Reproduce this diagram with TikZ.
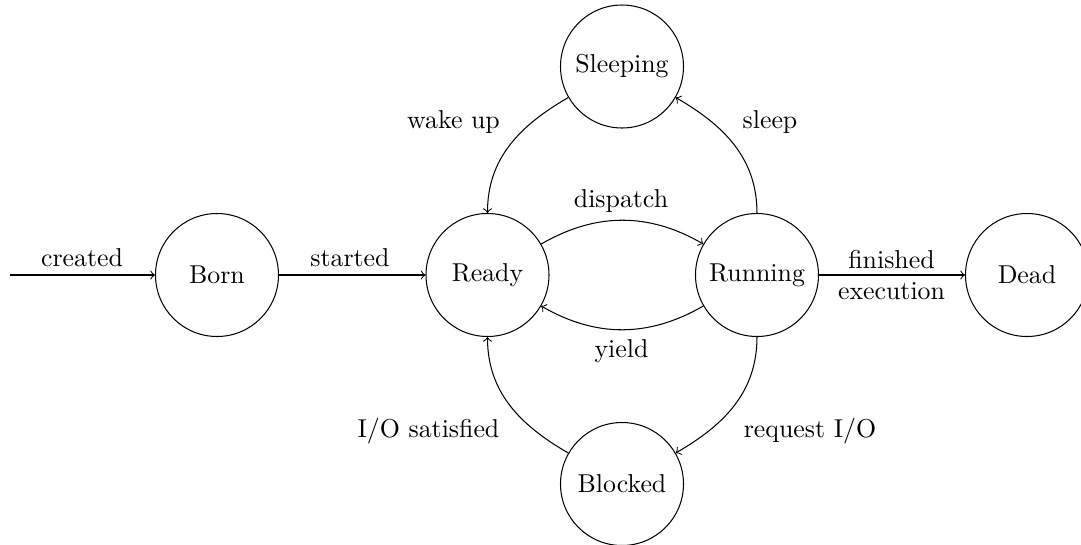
\documentclass[tikz,border=0pt]{standalone}
\usetikzlibrary{arrows}
\begin{document}
\begin{tikzpicture}[x=0.387pt,y=-0.387pt,
  state/.style={draw,circle,line width=0.4pt,minimum size=47.6pt,inner sep=0pt},
  lbl/.style={anchor=base,inner sep=0pt},
  conn/.style={->,line width=0.4pt}]
\useasboundingbox (0,0) rectangle (1081,544);

% states
\node[state] (Born)     at (217,275)  {Born};
\node[state] (Ready)    at (487.5,275) {Ready};
\node[state] (Running)  at (757,275)  {Running};
\node[state] (Dead)     at (1027,275) {Dead};
\node[state] (Sleeping) at (622,66.5) {Sleeping};
\node[state] (Blocked)  at (622,484)  {Blocked};
\coordinate (entry) at (10,275);

% transitions
\draw[conn] (entry) -- (Born);
\draw[conn] (Born) -- (Ready);
\draw[conn] (Ready) to[bend left=30] (Running);
\draw[conn] (Running) to[bend left=30] (Ready);
\draw[conn] (Running) to[out=90,in=-30] (Sleeping);
\draw[conn] (Sleeping) to[out=210,in=90] (Ready);
\draw[conn] (Running) to[out=-90,in=30] (Blocked);
\draw[conn] (Blocked) to[out=150,in=-90] (Ready);
\draw[conn] (Running) -- (Dead);

% transition labels
\node[lbl] (lcreated)  at (82,266)    {created};
\node[lbl] (lstarted)  at (350,266)   {started};
\node[lbl] (ldispatch) at (621,207)   {dispatch};
\node[lbl] (lyield)    at (621.5,357) {yield};
\node[lbl] (lwake)     at (453.5,128) {wake up};
\node[lbl] (lsleep)    at (770,128)   {sleep};
\node[lbl] (lsat)      at (428.5,437) {I/O satisfied};
\node[lbl] (lreq)      at (810,437)   {request I/O};
\node[align=center,inner sep=0pt] (lfinish) at (891.5,275) {finished\\execution};
\end{tikzpicture}
\end{document}
